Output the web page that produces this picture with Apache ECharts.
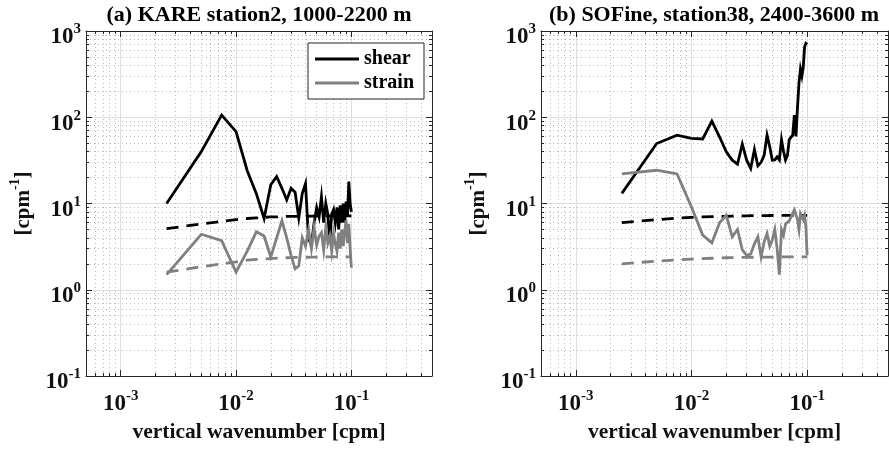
<!DOCTYPE html>
<html><head><meta charset="utf-8">
<script src="https://cdn.jsdelivr.net/npm/echarts@6/dist/echarts.min.js"></script>
<style>html,body{margin:0;padding:0;background:#fff}#chart{width:889px;height:449px}</style>
</head><body><div id="chart"></div>
<script>
// ---- data ----
const wavenumber = [0.0025,0.005,0.0075,0.01,0.0125,0.015,0.0175,0.02,0.0225,0.025,
  0.0275,0.03,0.0325,0.035,0.0375,0.04,0.0425,0.045,0.0475,0.05,
  0.0525,0.055,0.0575,0.06,0.0625,0.065,0.0675,0.07,0.0725,0.075,
  0.0775,0.08,0.0825,0.085,0.0875,0.09,0.0925,0.095,0.0975,0.1];

const kareShear = [10,40,106,68,24,13,6.7,16.5,20.5,15,
  11,15,13.5,6.8,13,17,3.9,3.3,6,9,
  7,12,6,10,7.5,3.6,7.5,8.5,6,9,
  5,9.5,6,10,6,10.5,7,18,10,8];
const kareStrain = [1.5,4.4,3.7,1.6,2.8,4.7,4.2,2.4,4.0,6.3,
  4.0,2.5,1.75,1.9,4.0,3.2,4.9,3.0,5.3,3.3,
  4.2,4.6,2.9,5.3,3.5,4.2,2.8,4.5,3.4,2.8,
  4.6,3.0,5.0,3.2,4.8,6.4,3.5,5.8,3.0,1.8];
const kareGMShear = [5.1,5.8,6.2,6.5,6.7,6.8,6.9,7.0,7.0,7.05,
  7.1,7.1,7.1,7.1,7.1,7.15,7.15,7.15,7.15,7.15,
  7.2,7.2,7.2,7.2,7.2,7.2,7.2,7.2,7.2,7.2,
  7.2,7.2,7.2,7.2,7.2,7.2,7.2,7.2,7.2,7.2];
const kareGMStrain = [1.6,1.85,2.0,2.1,2.2,2.25,2.28,2.3,2.32,2.34,
  2.35,2.36,2.37,2.37,2.38,2.38,2.38,2.39,2.39,2.39,
  2.4,2.4,2.4,2.4,2.4,2.4,2.4,2.4,2.4,2.4,
  2.4,2.4,2.4,2.4,2.4,2.4,2.4,2.4,2.4,2.4];

const sofineShear = [13.1,49.6,62,56.8,56,90,59,39.7,31.8,28.6,
  48.7,31.8,25.5,42.3,27.3,30,36.3,62,45.4,31.8,
  32,34.7,32,55,40,32,36,55,55,62,
  106,60,130,250,360,300,380,650,720,700];
const sofineStrain = [22,24.3,22,9.1,4.3,3.5,6.0,7.3,4.1,5.0,
  2.9,2.5,2.6,3.4,4.1,2.4,3.6,4.5,3.2,3.8,
  5.0,3.0,1.5,5.0,4.3,5.8,5.8,6.3,7.0,7.2,
  8.4,8.4,6.5,5.0,7.6,7.6,6.5,7.3,5.4,2.5];
const sofineGMShear = [6.0,6.5,6.75,6.9,7.0,7.05,7.1,7.1,7.15,7.2,
  7.2,7.2,7.22,7.22,7.24,7.24,7.25,7.25,7.26,7.26,
  7.27,7.27,7.28,7.28,7.28,7.29,7.29,7.29,7.3,7.3,
  7.3,7.3,7.3,7.3,7.3,7.3,7.3,7.3,7.3,7.3];
const sofineGMStrain = [2.0,2.15,2.22,2.27,2.3,2.32,2.34,2.35,2.36,2.36,
  2.37,2.37,2.38,2.38,2.38,2.39,2.39,2.39,2.39,2.39,
  2.4,2.4,2.4,2.4,2.4,2.4,2.4,2.4,2.4,2.4,
  2.4,2.4,2.4,2.4,2.4,2.4,2.4,2.4,2.4,2.4];

const titles = ['(a) KARE station2, 1000-2200 m', '(b) SOFine, station38, 2400-3600 m'];
const legendNames = ['shear', 'strain'];
const xName = 'vertical wavenumber [cpm]';

const xRange = [0.0005, 0.5];
const yRange = [0.1, 1000];
const xMajorTicks = [0.001, 0.01, 0.1];
const xMinorTicks = [0.0006,0.0007,0.0008,0.0009,
  0.002,0.003,0.004,0.005,0.006,0.007,0.008,0.009,
  0.02,0.03,0.04,0.05,0.06,0.07,0.08,0.09,
  0.2,0.3,0.4];
const yMajorTicks = [0.1, 1, 10, 100, 1000];
const yMinorTicks = [0.2,0.3,0.4,0.5,0.6,0.7,0.8,0.9,
  2,3,4,5,6,7,8,9,20,30,40,50,60,70,80,90,
  200,300,400,500,600,700,800,900];

// ---- styling ----
const FONT = "'Liberation Serif','Times New Roman',Times,serif";
const AX = '#262626';
const GRAY = '#808080';
const richPow = {
  b: {fontFamily: FONT, fontWeight: 'bold', fontSize: 23, color: '#111', lineHeight: 27, verticalAlign: 'bottom'},
  s: {fontFamily: FONT, fontWeight: 'bold', fontSize: 15, color: '#111', lineHeight: 15, verticalAlign: 'top'}
};
function powLabel(v) {
  const e = Math.round(Math.log10(v));
  return '{b|10}{s|' + e + '}';
}

const gridRects = [
  {left: 86, top: 31, width: 346, height: 345},
  {left: 541, top: 31, width: 347, height: 345}
];

const xAxes = [], yAxes = [];
gridRects.forEach(function (g, gi) {
  const base = {type: 'log', gridIndex: gi, min: xRange[0], max: xRange[1]};
  xAxes.push(Object.assign({}, base, {
    position: 'bottom',
    axisLine: {show: true, onZero: false, lineStyle: {color: AX, width: 1}},
    axisTick: {show: true, inside: true, length: 6, customValues: xMajorTicks, lineStyle: {color: AX}},
    axisLabel: {show: true, customValues: xMajorTicks, formatter: powLabel, rich: richPow, margin: 13},
    splitLine: {show: true, lineStyle: {color: '#dedede', width: 1}},
    name: xName, nameLocation: 'middle', nameGap: 45,
    nameTextStyle: {fontFamily: FONT, fontWeight: 'bold', fontSize: 21.5, color: '#111'}
  }));
  xAxes.push(Object.assign({}, base, {
    position: 'bottom',
    axisLine: {show: false, onZero: false},
    axisTick: {show: true, inside: true, length: 3, customValues: xMinorTicks, lineStyle: {color: AX}},
    axisLabel: {show: false},
    splitLine: {show: true, lineStyle: {color: '#bdbdbd', width: 1, type: [1, 3]}}
  }));
  xAxes.push(Object.assign({}, base, {
    position: 'top',
    axisLine: {show: true, onZero: false, lineStyle: {color: AX, width: 1}},
    axisTick: {show: true, inside: true, length: 6, customValues: xMajorTicks, lineStyle: {color: AX}},
    axisLabel: {show: false}, splitLine: {show: false}
  }));
  xAxes.push(Object.assign({}, base, {
    position: 'top',
    axisLine: {show: false, onZero: false},
    axisTick: {show: true, inside: true, length: 3, customValues: xMinorTicks, lineStyle: {color: AX}},
    axisLabel: {show: false}, splitLine: {show: false}
  }));

  const ybase = {type: 'log', gridIndex: gi, min: yRange[0], max: yRange[1]};
  yAxes.push(Object.assign({}, ybase, {
    position: 'left',
    axisLine: {show: true, onZero: false, lineStyle: {color: AX, width: 1}},
    axisTick: {show: true, inside: true, length: 6, customValues: yMajorTicks, lineStyle: {color: AX}},
    axisLabel: {show: true, customValues: yMajorTicks, formatter: powLabel, rich: richPow, margin: 5, padding: [9, 0, 0, 0]},
    splitLine: {show: true, lineStyle: {color: '#dedede', width: 1}},
    name: '{b|[cpm}{s|-1}{b|]}', nameLocation: 'middle', nameGap: 52,
    nameTextStyle: {rich: {
      b: {fontFamily: FONT, fontWeight: 'bold', fontSize: 21, color: '#111', lineHeight: 26, verticalAlign: 'bottom'},
      s: {fontFamily: FONT, fontWeight: 'bold', fontSize: 14, color: '#111', lineHeight: 14, verticalAlign: 'top'}
    }}
  }));
  yAxes.push(Object.assign({}, ybase, {
    position: 'left',
    axisLine: {show: false, onZero: false},
    axisTick: {show: true, inside: true, length: 3, customValues: yMinorTicks, lineStyle: {color: AX}},
    axisLabel: {show: false},
    splitLine: {show: true, lineStyle: {color: '#bdbdbd', width: 1, type: [1, 3]}}
  }));
  yAxes.push(Object.assign({}, ybase, {
    position: 'right',
    axisLine: {show: true, onZero: false, lineStyle: {color: AX, width: 1}},
    axisTick: {show: true, inside: true, length: 6, customValues: yMajorTicks, lineStyle: {color: AX}},
    axisLabel: {show: false}, splitLine: {show: false}
  }));
  yAxes.push(Object.assign({}, ybase, {
    position: 'right',
    axisLine: {show: false, onZero: false},
    axisTick: {show: true, inside: true, length: 3, customValues: yMinorTicks, lineStyle: {color: AX}},
    axisLabel: {show: false}, splitLine: {show: false}
  }));
});

function pairs(ys) { return wavenumber.map(function (k, i) { return [k, ys[i]]; }); }
function lineSeries(name, gi, ys, color, dashed) {
  return {
    name: name, type: 'line', xAxisIndex: gi * 4, yAxisIndex: gi * 4,
    data: pairs(ys), symbol: 'none', showSymbol: false, silent: true,
    lineStyle: {color: color, width: 2.8, type: dashed ? [12, 8] : 'solid', join: 'miter'},
    itemStyle: {color: color}, z: dashed ? 3 : 4
  };
}

const series = [
  lineSeries('shear', 0, kareShear, '#000', false),
  lineSeries('strain', 0, kareStrain, GRAY, false),
  lineSeries('GM shear', 0, kareGMShear, '#000', true),
  lineSeries('GM strain', 0, kareGMStrain, GRAY, true),
  lineSeries('shear', 1, sofineShear, '#000', false),
  lineSeries('strain', 1, sofineStrain, GRAY, false),
  lineSeries('GM shear', 1, sofineGMShear, '#000', true),
  lineSeries('GM strain', 1, sofineGMStrain, GRAY, true)
];

const chart = echarts.init(document.getElementById('chart'), null, {renderer: 'canvas'});
chart.setOption({
  animation: false,
  backgroundColor: '#fff',
  title: [
    {text: titles[0], left: 259, top: 4, padding: 0, textAlign: 'center',
     textStyle: {fontFamily: FONT, fontWeight: 'bold', fontSize: 22, color: '#000'}},
    {text: titles[1], left: 714, top: 4, padding: 0, textAlign: 'center',
     textStyle: {fontFamily: FONT, fontWeight: 'bold', fontSize: 22, color: '#000'}}
  ],
  legend: {
    data: legendNames.map(function (n) { return {name: n, icon: 'rect'}; }),
    left: 308, top: 43, orient: 'vertical',
    itemWidth: 44, itemHeight: 3, itemGap: 4, padding: [6, 10, 6, 7],
    borderColor: AX, borderWidth: 1, backgroundColor: '#fff', selectedMode: false,
    textStyle: {fontFamily: FONT, fontWeight: 'bold', fontSize: 20, color: '#000', lineHeight: 19}
  },
  grid: gridRects.map(function (g) { return Object.assign({containLabel: false}, g); }),
  xAxis: xAxes,
  yAxis: yAxes,
  series: series
});
</script></body></html>
